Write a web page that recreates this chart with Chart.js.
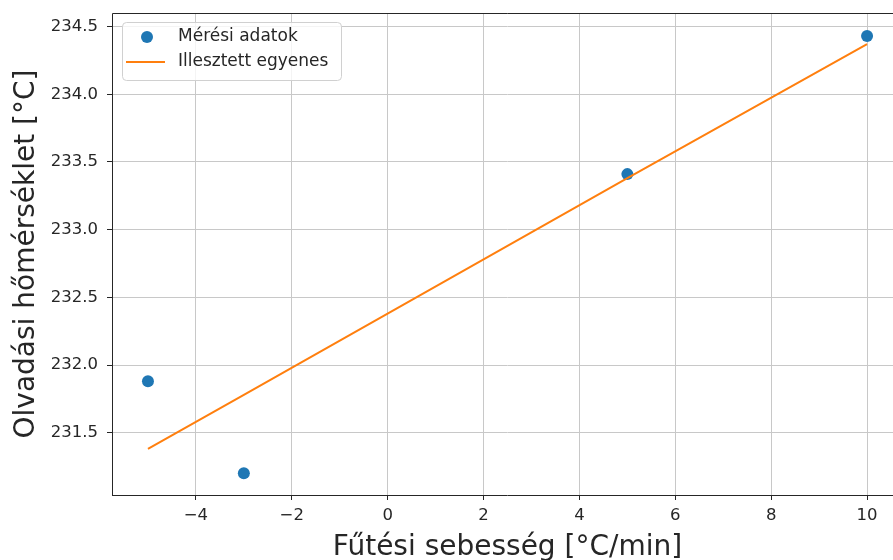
<!DOCTYPE html>
<html>
<head>
<meta charset="utf-8">
<script src="https://cdn.jsdelivr.net/npm/chart.js@4/dist/chart.umd.min.js"></script>
<style>
  html, body { margin: 0; padding: 0; background: #fff; }
  #wrap { width: 893px; height: 560px; overflow: hidden; position: relative; }
  #chart { display: block; }
</style>
</head>
<body>
<div id="wrap"><canvas id="chart" width="910" height="560"></canvas></div>
<script>
// Heating rate (°C/min) and measured melting temperature (°C)
const heatingRates = [-5, -3, 5, 10];
const meltingTemps = [231.88, 231.20, 233.41, 234.43];
// Least-squares line evaluated at the same heating rates
const fitTemps = [231.38, 231.78, 233.38, 234.37];

const seriesLabels = ['Mérési adatok', 'Illesztett egyenes'];
const xTickValues = [-4, -2, 0, 2, 4, 6, 8, 10];
const yTickValues = [231.5, 232.0, 232.5, 233.0, 233.5, 234.0, 234.5];
const xTitle = 'Fűtési sebesség [°C/min]';
const yTitle = 'Olvadási hőmérséklet [°C]';

const FONT = '"DejaVu Sans", sans-serif';
const TEXT = '#262626';
const BLUE = '#1f77b4';
const ORANGE = '#ff7f0e';

const scatterPoints = heatingRates.map((x, i) => ({ x, y: meltingTemps[i] }));
const fitPoints = heatingRates.map((x, i) => ({ x, y: fitTemps[i] }));

// Axis frame (left, top, bottom) like a matplotlib spine set
const framePlugin = {
  id: 'frame',
  afterDatasetsDraw(chart) {
    const { ctx, chartArea: a } = chart;
    ctx.save();
    ctx.strokeStyle = '#262626';
    ctx.lineWidth = 1;
    ctx.beginPath();
    ctx.moveTo(a.left + 0.5, a.bottom + 0.5);
    ctx.lineTo(a.left + 0.5, a.top + 0.5);
    ctx.lineTo(a.right, a.top + 0.5);
    ctx.moveTo(a.left, a.bottom + 0.5);
    ctx.lineTo(a.right, a.bottom + 0.5);
    ctx.stroke();
    ctx.restore();
  }
};

// Legend box in the upper-left corner
const legendPlugin = {
  id: 'boxLegend',
  afterDraw(chart) {
    const { ctx, chartArea: a } = chart;
    const x = a.left + 10, y = a.top + 9, w = 219, h = 58, r = 4;
    ctx.save();
    ctx.beginPath();
    ctx.roundRect(x + 0.5, y + 0.5, w, h, r);
    ctx.fillStyle = 'rgba(255,255,255,0.8)';
    ctx.fill();
    ctx.strokeStyle = '#d0d0d0';
    ctx.lineWidth = 1;
    ctx.stroke();

    const ds = chart.data.datasets;
    // scatter marker
    ctx.beginPath();
    ctx.arc(x + 25, y + 15, 6, 0, Math.PI * 2);
    ctx.fillStyle = ds[0].backgroundColor;
    ctx.fill();
    // line sample
    ctx.beginPath();
    ctx.moveTo(x + 4, y + 40);
    ctx.lineTo(x + 43, y + 40);
    ctx.strokeStyle = ds[1].borderColor;
    ctx.lineWidth = 2;
    ctx.stroke();

    ctx.fillStyle = TEXT;
    ctx.font = '17px ' + FONT;
    ctx.textBaseline = 'middle';
    ctx.textAlign = 'left';
    ctx.fillText(ds[0].label, x + 56, y + 15);
    ctx.fillText(ds[1].label, x + 56, y + 40);
    ctx.restore();
  }
};

new Chart(document.getElementById('chart'), {
  type: 'scatter',
  data: {
    datasets: [
      {
        label: seriesLabels[0],
        data: scatterPoints,
        backgroundColor: BLUE,
        borderColor: BLUE,
        pointRadius: 6,
        pointHoverRadius: 6,
        borderWidth: 0,
        order: 1
      },
      {
        type: 'line',
        label: seriesLabels[1],
        data: fitPoints,
        borderColor: ORANGE,
        backgroundColor: ORANGE,
        borderWidth: 2,
        pointRadius: 0,
        showLine: true,
        fill: false,
        tension: 0,
        order: 0
      }
    ]
  },
  options: {
    responsive: false,
    animation: false,
    events: [],
    layout: { padding: { left: 0, top: 13, right: 7, bottom: 0 } },
    plugins: {
      legend: { display: false },
      tooltip: { enabled: false }
    },
    scales: {
      x: {
        type: 'linear',
        min: -5.75,
        max: 10.75,
        afterBuildTicks(scale) { scale.ticks = xTickValues.map(v => ({ value: v })); },
        afterFit(scale) { scale.height = 65; scale.paddingLeft = 0; scale.paddingRight = 0; },
        border: { display: false },
        grid: { color: '#c8c8c8', lineWidth: 1, tickColor: '#262626', tickLength: 5, drawTicks: true },
        ticks: {
          color: TEXT,
          font: { family: FONT, size: 16.5 },
          padding: 6,
          maxRotation: 0,
          autoSkip: false,
          callback: v => (v < 0 ? '\u2212' + Math.abs(v) : String(v))
        },
        title: {
          display: true,
          text: xTitle,
          color: TEXT,
          font: { family: FONT, size: 28 },
          padding: { top: 0, bottom: -5 }
        }
      },
      y: {
        type: 'linear',
        min: 231.04,
        max: 234.6,
        afterBuildTicks(scale) { scale.ticks = yTickValues.map(v => ({ value: v })); },
        afterFit(scale) { scale.width = 112; scale.paddingTop = 0; scale.paddingBottom = 0; },
        border: { display: false },
        grid: { color: '#c8c8c8', lineWidth: 1, tickColor: '#262626', tickLength: 5, drawTicks: true },
        ticks: {
          color: TEXT,
          font: { family: FONT, size: 16.5 },
          padding: 9,
          autoSkip: false,
          callback: v => Number(v).toFixed(1)
        },
        title: {
          display: true,
          text: yTitle,
          color: TEXT,
          font: { family: FONT, size: 28 },
          padding: { top: 10, bottom: 0 }
        }
      }
    }
  },
  plugins: [framePlugin, legendPlugin]
});
</script>
</body>
</html>
